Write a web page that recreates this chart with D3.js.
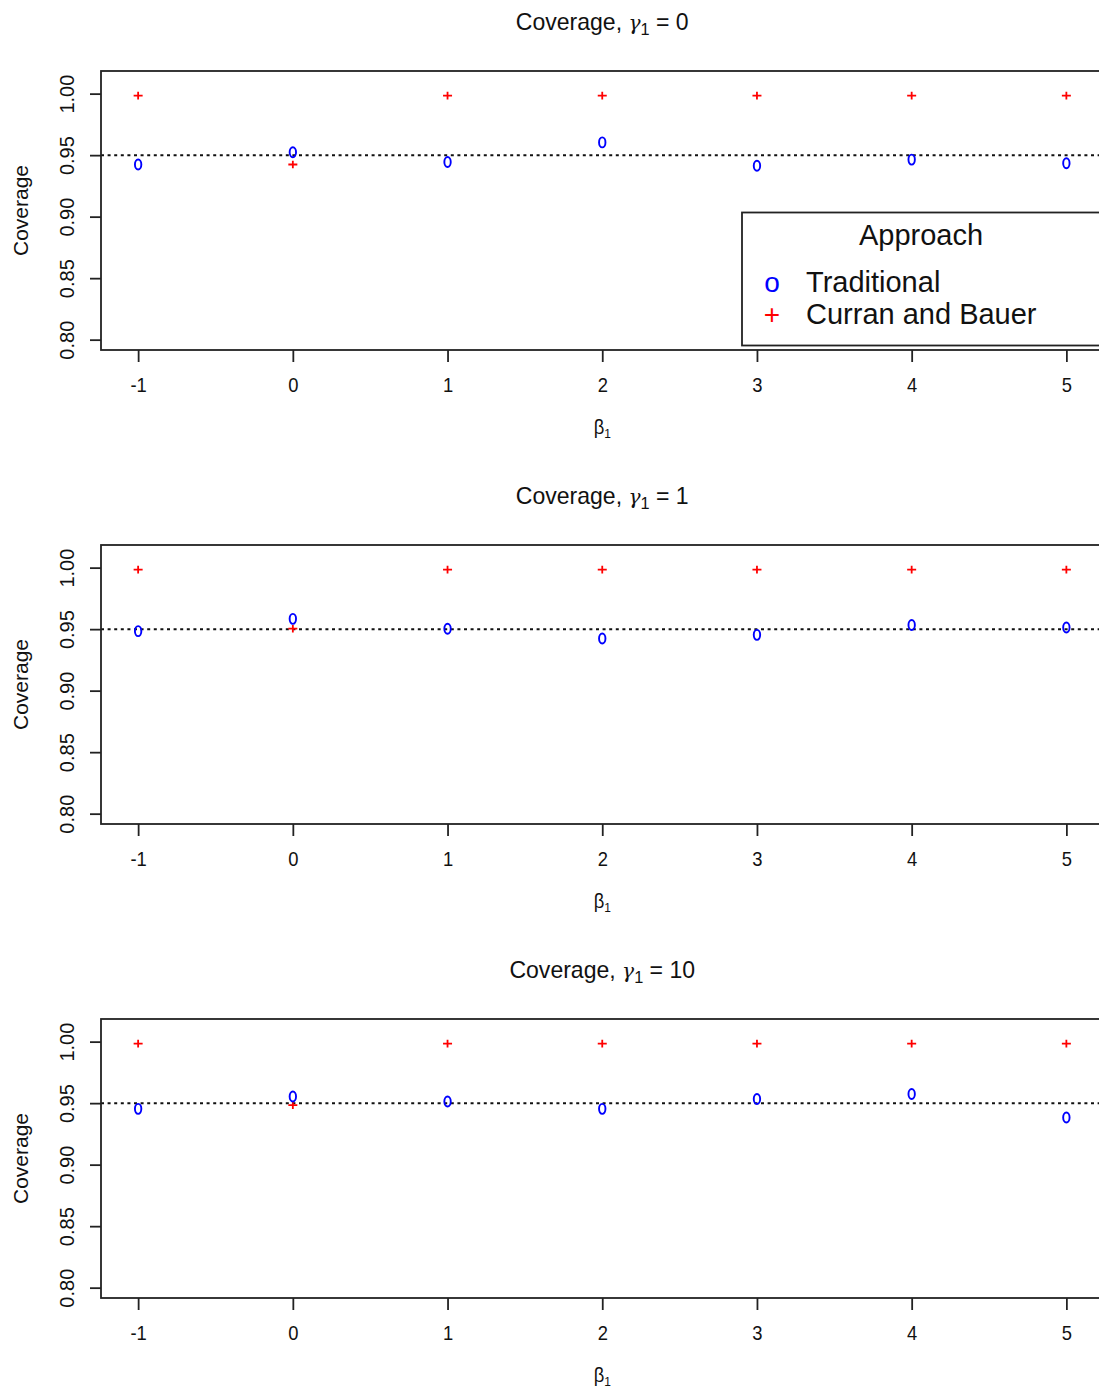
<!DOCTYPE html>
<html>
<head>
<meta charset="utf-8">
<script src="https://cdn.jsdelivr.net/npm/d3@7"></script>
<style>
  html, body { margin: 0; padding: 0; background: #fff; }
  svg { display: block; font-family: 'Liberation Sans', Arial, sans-serif; }
</style>
</head>
<body>
<div id="svg-container"></div>
<script>
// beta_1 values on the x axis
const betaValues = [-1, 0, 1, 2, 3, 4, 5]
const gammaValues = [0, 1, 10]

// coverage
const traditionalG0 = [0.944, 0.954, 0.946, 0.962, 0.943, 0.948, 0.945]
const traditionalG1 = [0.950, 0.960, 0.952, 0.944, 0.947, 0.955, 0.953]
const traditionalG10 = [0.947, 0.957, 0.953, 0.947, 0.955, 0.959, 0.940]
const curranG0 = [1.0, 0.944, 1.0, 1.0, 1.0, 1.0, 1.0]
const curranG1 = [1.0, 0.952, 1.0, 1.0, 1.0, 1.0, 1.0]
const curranG10 = [1.0, 0.950, 1.0, 1.0, 1.0, 1.0, 1.0]

const yTicks = [0.8, 0.85, 0.9, 0.95, 1.0]
const refLine = 0.95
const legendTitle = 'Approach'
const legendLabels = ['Traditional', 'Curran and Bauer']

const panels = [
  { gamma: gammaValues[0], trad: traditionalG0, curran: curranG0 },
  { gamma: gammaValues[1], trad: traditionalG1, curran: curranG1 },
  { gamma: gammaValues[2], trad: traditionalG10, curran: curranG10 },
]

const width = 1099
const height = 1392
const plotLeft = 101
const plotRight = 1103.5
const plotTop0 = 71
const panelStep = 474
const plotHeight = 279
const markDy = 2
const squeeze = 0.92

const svg = d3
  .select('#svg-container')
  .append('svg')
  .attr('width', width)
  .attr('height', height)
  .attr('viewBox', `0 0 ${width} ${height}`)
  .style('background', '#fff')

const xScale = d3.scaleLinear().domain([-1.24, 5.24]).range([plotLeft, plotRight])

panels.forEach((p, i) => {
  const top = plotTop0 + i * panelStep
  const yScale = d3
    .scaleLinear()
    .domain([0.7916, 1.0184])
    .range([top + plotHeight, top])

  const g = svg.append('g').attr('class', 'panel')

  // title
  const title = g
    .append('text')
    .attr('transform', `translate(${(plotLeft + plotRight) / 2}, ${top - 41}) scale(0.96,1)`)
    .attr('text-anchor', 'middle')
    .style('font-size', '24px')
    .attr('fill', '#111')
  title.append('tspan').text('Coverage, ')
  title.append('tspan').text('γ').style('font-family', "'DejaVu Serif', serif").style('font-style', 'italic').style('font-size', '21px')
  title.append('tspan').text('1').attr('dy', 5).style('font-size', '17px')
  title.append('tspan').text(` = ${p.gamma}`).attr('dy', -5)

  // x axis
  g.append('g')
    .attr('transform', `translate(0, ${top + plotHeight})`)
    .call(d3.axisBottom(xScale).tickValues(betaValues).tickSize(12).tickFormat(d => String(d)))
    .call(ax => {
      ax.select('.domain').remove()
      ax.selectAll('.tick line').attr('stroke', '#222').attr('stroke-width', 1.8)
      ax.selectAll('.tick text')
        .attr('y', 42)
        .attr('dy', 0)
        .attr('fill', '#111')
        .attr('transform', `scale(${squeeze},1)`)
        .style('font-size', '20px')
        .style('font-family', "'Liberation Sans', Arial, sans-serif")
    })

  // y axis
  g.append('g')
    .attr('transform', `translate(${plotLeft}, 0)`)
    .call(d3.axisLeft(yScale).tickValues(yTicks).tickSize(11).tickFormat(d => d.toFixed(2)))
    .call(ax => {
      ax.select('.domain').remove()
      ax.selectAll('.tick line').attr('stroke', '#222').attr('stroke-width', 1.8)
      ax.selectAll('.tick text')
        .attr('x', 0)
        .attr('y', -27)
        .attr('dy', 0)
        .attr('transform', 'rotate(-90)')
        .attr('text-anchor', 'middle')
        .attr('fill', '#111')
        .style('font-size', '20px')
        .style('font-family', "'Liberation Sans', Arial, sans-serif")
    })

  // axis labels
  const xl = g
    .append('text')
    .attr('transform', `translate(${(plotLeft + plotRight) / 2}, ${top + plotHeight + 84}) scale(${squeeze},1)`)
    .attr('text-anchor', 'middle')
    .attr('fill', '#111')
    .style('font-size', '20px')
  xl.append('tspan').text('β')
  xl.append('tspan').text('1').attr('dy', 4).style('font-size', '13px')

  g.append('text')
    .attr('transform', `translate(28, ${top + plotHeight / 2}) rotate(-90)`)
    .attr('text-anchor', 'middle')
    .attr('fill', '#111')
    .style('font-size', '21px')
    .text('Coverage')

  // reference line
  g.append('line')
    .attr('x1', plotLeft)
    .attr('x2', plotRight)
    .attr('y1', yScale(refLine))
    .attr('y2', yScale(refLine))
    .attr('stroke', '#111')
    .attr('stroke-width', 2)
    .attr('stroke-dasharray', '3 3.6')

  // Curran and Bauer '+'
  g.selectAll('path.curran')
    .data(betaValues.map((b, k) => ({ b, v: p.curran[k] })))
    .join('path')
    .attr('class', 'curran')
    .attr('d', d => {
      const cx = xScale(d.b)
      const cy = yScale(d.v) + markDy
      return `M${cx - 4.5},${cy}H${cx + 4.5}M${cx},${cy - 3.8}V${cy + 3.8}`
    })
    .attr('stroke', '#ff0000')
    .attr('stroke-width', 1.8)
    .attr('fill', 'none')

  // Traditional 'o'
  g.selectAll('ellipse.trad')
    .data(betaValues.map((b, k) => ({ b, v: p.trad[k] })))
    .join('ellipse')
    .attr('class', 'trad')
    .attr('cx', d => xScale(d.b))
    .attr('cy', d => yScale(d.v) + markDy)
    .attr('rx', 3.2)
    .attr('ry', 5)
    .attr('stroke', '#0000ff')
    .attr('stroke-width', 1.9)
    .attr('fill', 'none')

  // box
  g.append('rect')
    .attr('x', plotLeft)
    .attr('y', top)
    .attr('width', plotRight - plotLeft)
    .attr('height', plotHeight)
    .attr('fill', 'none')
    .attr('stroke', '#222')
    .attr('stroke-width', 1.8)

  // legend only in the first panel
  if (i === 0) {
    const lg = svg.append('g').attr('class', 'legend')
    lg.append('rect')
      .attr('x', 742)
      .attr('y', 212.5)
      .attr('width', 500)
      .attr('height', 133)
      .attr('fill', '#fff')
      .attr('stroke', '#222')
      .attr('stroke-width', 1.8)
    lg.append('text')
      .attr('x', 921)
      .attr('y', 245)
      .attr('text-anchor', 'middle')
      .attr('fill', '#111')
      .style('font-size', '29px')
      .text(legendTitle)
    const symbols = [
      { s: 'o', c: '#0000ff' },
      { s: '+', c: '#ff0000' },
    ]
    legendLabels.forEach((l, k) => {
      const by = 292 + k * 32
      lg.append('text')
        .attr('x', 772)
        .attr('y', by)
        .attr('text-anchor', 'middle')
        .attr('fill', symbols[k].c)
        .style('font-size', '28px')
        .text(symbols[k].s)
      lg.append('text')
        .attr('x', 806)
        .attr('y', by)
        .attr('fill', '#111')
        .style('font-size', '29px')
        .text(l)
    })
  }
})
</script>
</body>
</html>
